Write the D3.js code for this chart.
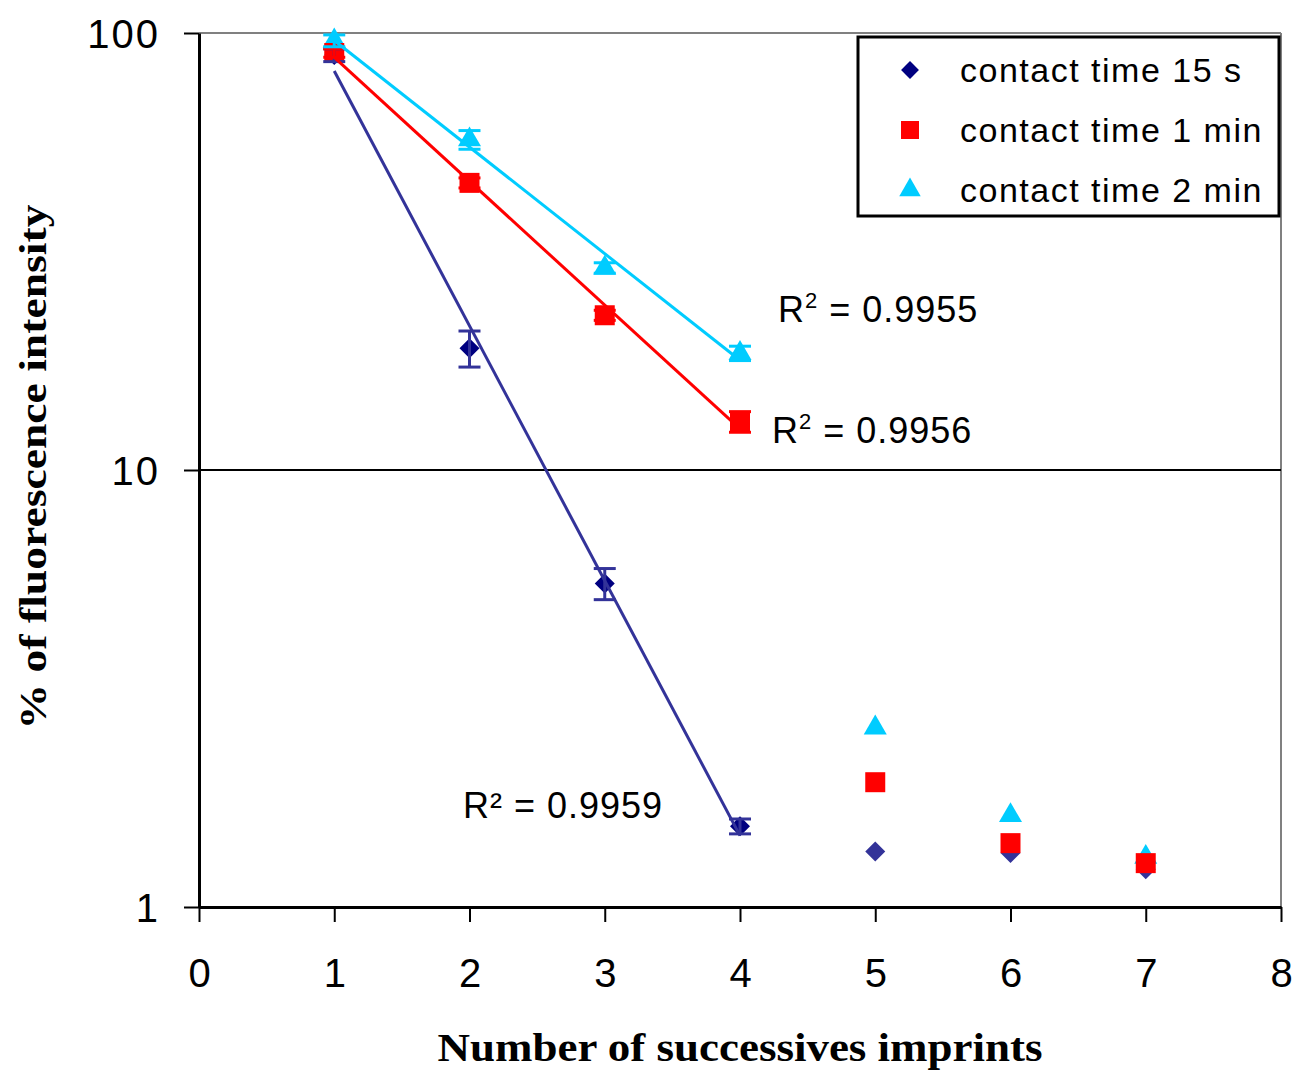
<!DOCTYPE html>
<html><head><meta charset="utf-8">
<script src="https://cdn.jsdelivr.net/npm/d3@7"></script>
<style>body{margin:0;background:#fff}</style></head>
<body><svg id="c" width="1292" height="1072"></svg>
<script>
// ---- data ----
const imprints = [1, 2, 3, 4, 5, 6, 7];
const seriesNames = ["contact time 15 s", "contact time 1 min", "contact time 2 min"];
const values15s  = [89, 19, 5.5, 1.53, 1.34, 1.33, 1.22];
const values1min = [90, 45.4, 22.6, 12.9, 1.93, 1.40, 1.26];
const values2min = [96, 57, 29, 18.5, 2.57, 1.62, 1.30];
const errors15s  = [3, 1.8, 0.45, 0.06];
const errors1min = [2, 1.2, 0.6, 0.7];
const errors2min = [3, 2.8, 0.8, 0.7];
const r2Labels = ["0.9959", "0.9956", "0.9955"];
const xTicks = [0, 1, 2, 3, 4, 5, 6, 7, 8];
const yTicks = [1, 10, 100];
const fitCount = 4;

// ---- layout / style ----
const W = 1292, H = 1072;
const L = 199, R = 1281, T = 33, B = 907;
const diamondShape = {
  draw(ctx, size) {
    const r = Math.sqrt(size / 2);
    ctx.moveTo(0, -r); ctx.lineTo(r, 0); ctx.lineTo(0, r); ctx.lineTo(-r, 0); ctx.closePath();
  }
};
const styles = [
  {fill: "#000080", tail: "#333399", line: "#333399", shape: diamondShape, size: 200, lsize: 160, r2pos: [463, 818], sup: false},
  {fill: "#FF0000", tail: "#FF0000", line: "#FF0000", shape: d3.symbolSquare, size: 400, lsize: 324, r2pos: [772, 443], sup: true},
  {fill: "#00CCFF", tail: "#00CCFF", line: "#00CCFF", shape: d3.symbolTriangle, size: 230, lsize: 200, r2pos: [778, 322], sup: true}
];
const series = [
  {name: seriesNames[0], values: values15s, errors: errors15s, r2: r2Labels[0]},
  {name: seriesNames[1], values: values1min, errors: errors1min, r2: r2Labels[1]},
  {name: seriesNames[2], values: values2min, errors: errors2min, r2: r2Labels[2]}
];

const svg = d3.select("#c");
svg.append("rect").attr("width", W).attr("height", H).attr("fill", "#fff");

const x = d3.scaleLinear().domain([0, 8]).range([L, R]);
const y = d3.scaleLog().domain([1, 100]).range([B, T]);

const tickFont = "'Liberation Sans', Arial, sans-serif";

// plot frame (top and right in grey)
svg.append("line").attr("x1", L).attr("x2", R).attr("y1", y(100)).attr("y2", y(100))
  .attr("stroke", "#808080").attr("stroke-width", 2);
svg.append("line").attr("x1", R).attr("x2", R).attr("y1", T).attr("y2", B)
  .attr("stroke", "#808080").attr("stroke-width", 2);
// gridline at 10
svg.append("line").attr("x1", L).attr("x2", R).attr("y1", y(10)).attr("y2", y(10))
  .attr("stroke", "#000").attr("stroke-width", 2);

// axes
const xAxis = d3.axisBottom(x).tickValues(xTicks).tickFormat(d3.format("d")).tickSize(15).tickSizeOuter(0);
const gx = svg.append("g").attr("transform", `translate(0,${B})`).call(xAxis);
gx.select(".domain").attr("stroke", "#000").attr("stroke-width", 3);
gx.selectAll(".tick line").attr("stroke", "#000").attr("stroke-width", 2);
gx.selectAll(".tick text").attr("font-family", tickFont).attr("font-size", 40)
  .attr("fill", "#000").attr("dy", 0).attr("y", 80);

const yAxis = d3.axisLeft(y).tickValues(yTicks).tickFormat(d3.format("d")).tickSize(15).tickSizeOuter(0);
const gy = svg.append("g").attr("transform", `translate(${L},0)`).call(yAxis);
gy.select(".domain").attr("stroke", "#000").attr("stroke-width", 3);
gy.selectAll(".tick line").attr("stroke", "#000").attr("stroke-width", 2);
gy.selectAll(".tick text").attr("font-family", tickFont).attr("font-size", 40)
  .attr("fill", "#000").attr("x", -39).attr("dy", "0.35em").attr("letter-spacing", 2);

// axis titles
svg.append("text").attr("transform", `translate(46,467) rotate(-90)`)
  .attr("text-anchor", "middle").attr("font-family", "'Liberation Serif', 'Times New Roman', serif")
  .attr("font-weight", "bold").attr("font-size", 38)
  .attr("textLength", 525).attr("lengthAdjust", "spacingAndGlyphs")
  .text("% of fluorescence intensity");
svg.append("text").attr("x", 740).attr("y", 1061)
  .attr("text-anchor", "middle").attr("font-family", "'Liberation Serif', 'Times New Roman', serif")
  .attr("font-weight", "bold").attr("font-size", 40)
  .attr("textLength", 605).attr("lengthAdjust", "spacingAndGlyphs")
  .text("Number of successives imprints");

// markers: order navy, cyan, red
[0, 2, 1].forEach(si => {
  const s = series[si], st = styles[si];
  svg.append("g").selectAll("path").data(s.values).join("path")
    .attr("d", d3.symbol().type(st.shape).size(st.size)())
    .attr("transform", (d, i) => `translate(${x(imprints[i])},${y(d)})`)
    .attr("fill", (d, i) => i < fitCount ? st.fill : st.tail);
});

// error bars
series.forEach((s, si) => {
  const st = styles[si];
  const g = svg.append("g").attr("stroke", st.line).attr("stroke-width", 3).attr("fill", "none");
  s.errors.forEach((e, i) => {
    const cx = x(imprints[i]), v = s.values[i];
    const y1 = y(v + e), y2 = y(v - e);
    g.append("line").attr("x1", cx).attr("x2", cx).attr("y1", y1).attr("y2", y2);
    g.append("line").attr("x1", cx - 11).attr("x2", cx + 11).attr("y1", y1).attr("y2", y1);
    g.append("line").attr("x1", cx - 11).attr("x2", cx + 11).attr("y1", y2).attr("y2", y2);
  });
});

// exponential trendlines fitted on first 4 points
series.forEach((s, si) => {
  const st = styles[si];
  const xs = imprints.slice(0, fitCount), ls = s.values.slice(0, fitCount).map(Math.log10);
  const mx = d3.mean(xs), my = d3.mean(ls);
  const slope = d3.sum(xs, (xv, i) => (xv - mx) * (ls[i] - my)) / d3.sum(xs, xv => (xv - mx) ** 2);
  const icpt = my - slope * mx;
  const pts = [xs[0], xs[fitCount - 1]].map(xv => [xv, Math.pow(10, icpt + slope * xv)]);
  svg.append("path").datum(pts)
    .attr("d", d3.line().x(d => x(d[0])).y(d => y(d[1])))
    .attr("stroke", st.line).attr("stroke-width", 3).attr("fill", "none");
});

// R² labels
series.forEach((s, si) => {
  const st = styles[si];
  const t = svg.append("text").attr("x", st.r2pos[0]).attr("y", st.r2pos[1])
    .attr("font-family", tickFont).attr("font-size", 36).attr("fill", "#000").attr("letter-spacing", 1);
  t.append("tspan").text("R");
  if (st.sup) {
    t.append("tspan").attr("font-size", 22).attr("dy", -14).text("2");
    t.append("tspan").attr("dy", 14).text(" = " + s.r2);
  } else {
    t.append("tspan").text("\u00B2 = " + s.r2);
  }
});

// legend
const lg = svg.append("g");
lg.append("rect").attr("x", 858).attr("y", 37).attr("width", 421).attr("height", 179)
  .attr("fill", "#fff").attr("stroke", "#000").attr("stroke-width", 3);
series.forEach((s, si) => {
  const st = styles[si];
  const cy = 70 + si * 60;
  lg.append("path").attr("d", d3.symbol().type(st.shape).size(st.lsize)())
    .attr("transform", `translate(910,${cy})`)
    .attr("fill", st.fill);
  lg.append("text").attr("x", 960).attr("y", cy).attr("dy", "0.35em")
    .attr("font-family", tickFont).attr("font-size", 34).attr("letter-spacing", 1.5).attr("fill", "#000")
    .text(s.name);
});
</script>
</body></html>
